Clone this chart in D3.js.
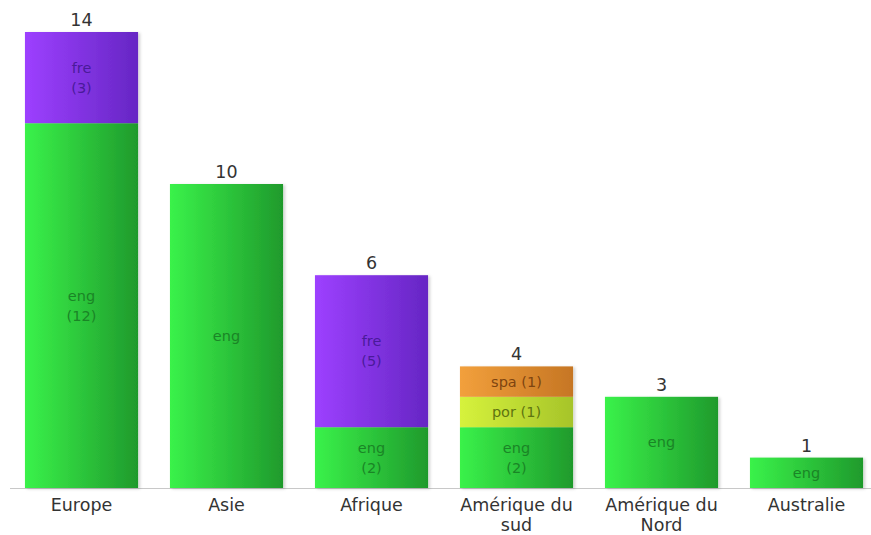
<!DOCTYPE html>
<html>
<head>
<meta charset="utf-8">
<script src="https://cdn.jsdelivr.net/npm/d3@7"></script>
<style>
  body { margin: 0; background: #fff; }
  svg { display: block; font-family: "DejaVu Sans", Verdana, sans-serif; }
</style>
</head>
<body>
<svg id="chart" width="871" height="535"></svg>
<script>
// chart values
var categories = ["Europe", "Asie", "Afrique", "Amérique du sud", "Amérique du Nord", "Australie"];
var totals = [14, 10, 6, 4, 3, 1];
var languages = ["eng", "fre", "por", "spa"];
var eng = [12, 10, 2, 2, 3, 1];
var fre = [3, 0, 5, 0, 0, 0];
var por = [0, 0, 0, 1, 0, 0];
var spa = [0, 0, 0, 1, 0, 0];

var series = { eng: eng, fre: fre, por: por, spa: spa };
var rows = categories.map(function(c, i) {
    var r = { name: c, total: totals[i] };
    languages.forEach(function(k) { r[k] = series[k][i]; });
    return r;
});

// fills: [left, right, text]
var colors = {
    eng: ["#3af24a", "#1f9a2c", "#1a8526"],
    fre: ["#9d40ff", "#6626c4", "#4a1a9a"],
    por: ["#d6f23c", "#a6c42a", "#5e7410"],
    spa: ["#f2a03c", "#c67624", "#7e4410"]
};

var width = 871, height = 535;
var baseline = 488;

var svg = d3.select("#chart");

var defs = svg.append("defs");
languages.forEach(function(k) {
    var g = defs.append("linearGradient")
        .attr("id", "grad-" + k)
        .attr("x1", "0%").attr("x2", "100%")
        .attr("y1", "0%").attr("y2", "0%");
    g.append("stop").attr("offset", "0%").attr("stop-color", colors[k][0]);
    g.append("stop").attr("offset", "100%").attr("stop-color", colors[k][1]);
});
var shadow = defs.append("filter").attr("id", "shadow")
    .attr("x", "-10%").attr("y", "-10%").attr("width", "130%").attr("height", "130%");
shadow.append("feDropShadow")
    .attr("dx", 2).attr("dy", 1).attr("stdDeviation", 1.5)
    .attr("flood-color", "#000").attr("flood-opacity", 0.18);

var x = d3.scaleBand()
    .domain(categories)
    .range([9, 879])
    .paddingInner(0.22)
    .paddingOuter(0.11);

var stack = d3.stack().keys(languages);
var stacked = stack(rows);
var maxVal = d3.max(rows, function(d) { return d3.sum(languages, function(k) { return d[k]; }); });

var y = d3.scaleLinear()
    .domain([0, maxVal])
    .range([baseline, 32]);

// axis line
svg.append("line")
    .attr("x1", 10).attr("x2", width)
    .attr("y1", baseline + 0.5).attr("y2", baseline + 0.5)
    .attr("stroke", "#c8c8c8").attr("stroke-width", 1);

var bars = svg.append("g").attr("filter", "url(#shadow)");

stacked.forEach(function(layer) {
    var key = layer.key;
    bars.selectAll(".seg-" + key)
        .data(layer.filter(function(d) { return d[1] > d[0]; }))
        .join("rect")
        .attr("class", "seg-" + key)
        .attr("x", function(d) { return x(d.data.name); })
        .attr("width", x.bandwidth())
        .attr("y", function(d) { return y(d[1]); })
        .attr("height", function(d) { return y(d[0]) - y(d[1]); })
        .attr("fill", "url(#grad-" + key + ")");
});

// labels inside segments
var labels = svg.append("g")
    .attr("text-anchor", "middle")
    .style("font-size", "14.5px");

stacked.forEach(function(layer) {
    var key = layer.key;
    layer.forEach(function(d) {
        var v = d[1] - d[0];
        if (v <= 0) return;
        var nSeg = languages.filter(function(k) { return d.data[k] > 0; }).length;
        var cx = x(d.data.name) + x.bandwidth() / 2;
        var top = y(d[1]), bot = y(d[0]);
        var cy = (top + bot) / 2;
        var lines;
        if (nSeg === 1) lines = [key];
        else if (bot - top > 45) lines = [key, "(" + v + ")"];
        else lines = [key + " (" + v + ")"];
        var t = labels.append("text")
            .attr("fill", colors[key][2])
            .attr("y", cy - (lines.length - 1) * 10 + 5);
        lines.forEach(function(l, i) {
            t.append("tspan").attr("x", cx).attr("dy", i === 0 ? 0 : 20).text(l);
        });
    });
});

// totals above bars
svg.append("g")
    .attr("text-anchor", "middle")
    .style("font-size", "17.5px")
    .attr("fill", "#333")
    .selectAll("text")
    .data(rows)
    .join("text")
    .attr("x", function(d) { return x(d.name) + x.bandwidth() / 2; })
    .attr("y", function(d) { return y(d3.sum(languages, function(k) { return d[k]; })) - 6; })
    .text(function(d) { return d.total; });

// category labels, wrapped to bar width
var cat = svg.append("g")
    .attr("text-anchor", "middle")
    .style("font-size", "17.5px")
    .attr("fill", "#333");

categories.forEach(function(c) {
    var cx = x(c) + x.bandwidth() / 2;
    var t = cat.append("text").attr("y", baseline + 23);
    var words = c.split(" ");
    var line = [];
    var tspan = t.append("tspan").attr("x", cx).attr("dy", 0);
    words.forEach(function(w) {
        line.push(w);
        tspan.text(line.join(" "));
        if (tspan.node().getComputedTextLength() > x.bandwidth() + 8 && line.length > 1) {
            line.pop();
            tspan.text(line.join(" "));
            line = [w];
            tspan = t.append("tspan").attr("x", cx).attr("dy", 20).text(w);
        }
    });
});
</script>
</body>
</html>
